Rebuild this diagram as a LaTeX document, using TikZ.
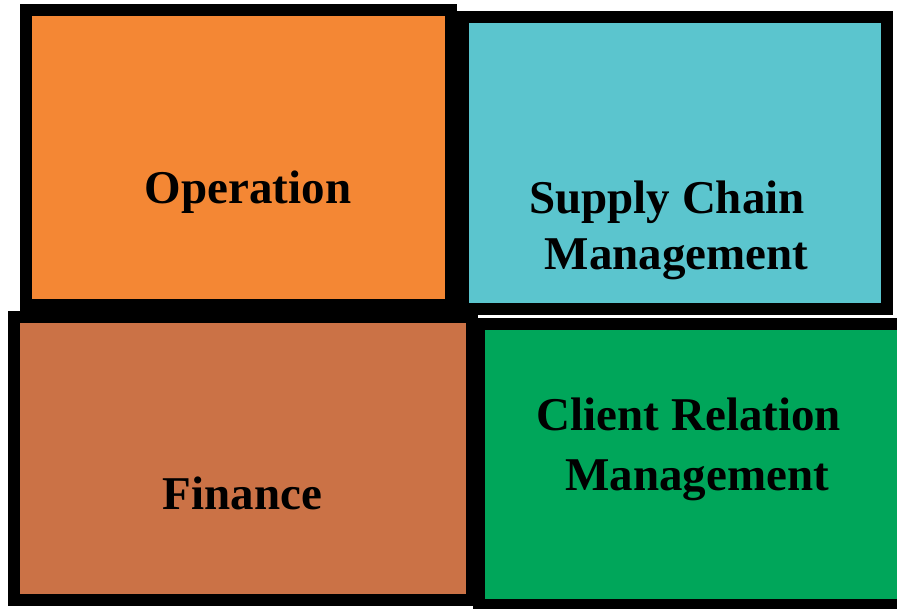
\documentclass[tikz,border=0pt]{standalone}
\usepackage{fontspec}
\setmainfont{Liberation Serif}
\definecolor{opc}{RGB}{244,135,52}
\definecolor{scc}{RGB}{91,197,206}
\definecolor{fic}{RGB}{203,114,70}
\definecolor{crc}{RGB}{0,166,90}
\tikzset{
  box/.style={draw=black, line width=12pt, rectangle, inner sep=0pt, outer sep=0pt},
  lbl/.style={anchor=base, inner sep=0pt, font=\fontsize{47}{56}\selectfont\bfseries}
}
\begin{document}
\begin{tikzpicture}[x=1pt,y=-1pt]
\useasboundingbox (0,0) rectangle (897,608);
\fill[white] (0,0) rectangle (897,608);
\node[box, fill=opc, minimum width=425pt, minimum height=295pt] (op) at (238.5,157.5) {};
\node[box, fill=scc, minimum width=423.4pt, minimum height=292pt] (sc) at (675,163.3) {};
\node[box, fill=fic, minimum width=458.3pt, minimum height=283.5pt] (fi) at (242.9,458.3) {};
\node[box, fill=crc, minimum width=426pt, minimum height=281pt] (cr) at (692,464.8) {};
\node[lbl] (opt) at (248,203) {Operation};
\node[lbl] (sct1) at (667,213) {Supply Chain};
\node[lbl] (sct2) at (676.5,269) {Management};
\node[lbl] (fit) at (242.5,509) {Finance};
\node[lbl] (crt1) at (689,430) {Client Relation};
\node[lbl] (crt2) at (697,490) {Management};
\end{tikzpicture}
\end{document}
